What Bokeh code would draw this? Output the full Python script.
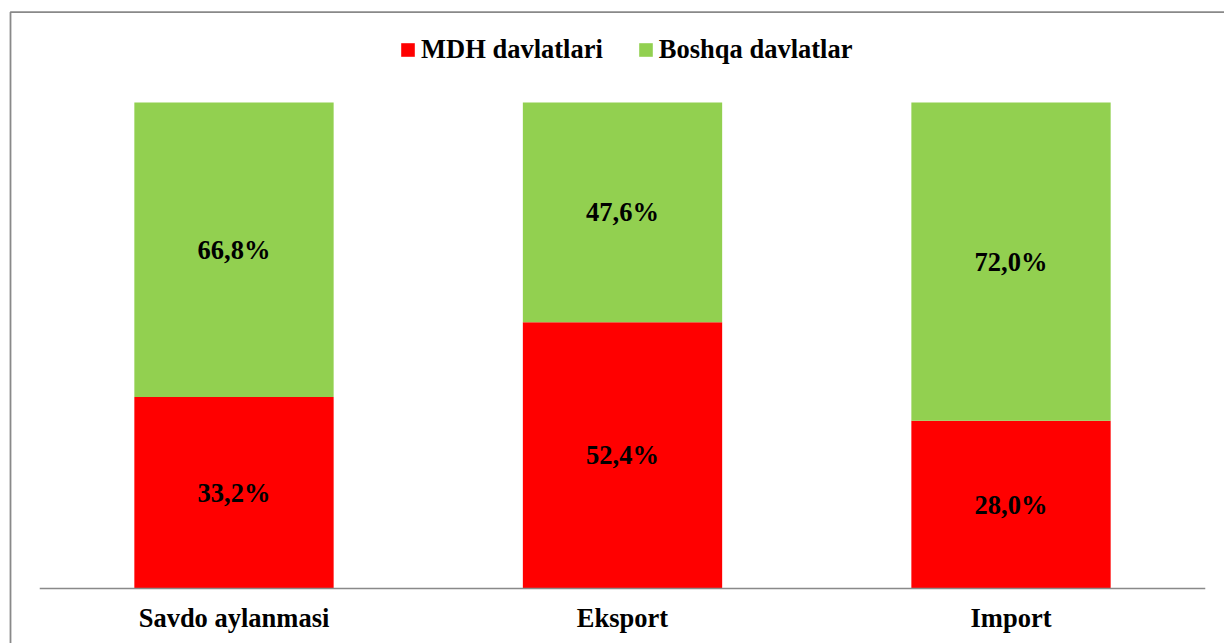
from bokeh.plotting import figure
from bokeh.models import ColumnDataSource, Range1d
from bokeh.core.properties import value
from bokeh.embed import file_html
from bokeh.resources import INLINE

# ---- data ----
categories = ["Savdo aylanmasi", "Eksport", "Import"]
series_names = ["MDH davlatlari", "Boshqa davlatlar"]
mdh_share = [39.4, 54.8, 34.5]        # bar heights as drawn in the picture
boshqa_share = [60.6, 45.2, 65.5]
mdh_labels = ["33,2%", "52,4%", "28,0%"]
boshqa_labels = ["66,8%", "47,6%", "72,0%"]

# ---- styles ----
RED = "#FF0000"
GREEN = "#92D050"
GRAY = "#898989"
FONT_NAME = "Liberation Serif"
FONT = value(FONT_NAME)
FSIZE = "26.5px"

xs = list(range(len(categories)))
mdh_mid = [m / 2 for m in mdh_share]
bos_mid = [m + b / 2 for m, b in zip(mdh_share, boshqa_share)]

src = ColumnDataSource(dict(
    x=xs, cat=categories,
    mdh=mdh_share, boshqa=boshqa_share,
    mdh_mid=mdh_mid, bos_mid=bos_mid,
    mdh_lab=mdh_labels, bos_lab=boshqa_labels,
))

PX_X = 388.5   # px per category step
PX_Y = 4.86    # px per percent
X0, X1 = -0.6010, 2.5495
Y0, Y1 = -11.317, 120.99

p = figure(width=1224, height=643, output_backend="svg", toolbar_location=None,
           x_axis_type=None, y_axis_type=None,
           x_range=Range1d(X0, X1), y_range=Range1d(Y0, Y1),
           min_border_left=0, min_border_right=0, min_border_top=0, min_border_bottom=0)
p.grid.visible = False
p.outline_line_color = None
p.background_fill_color = "white"

# chart-area border (left and top visible)
bx = X0 + 10.0 / PX_X
by = Y1 - 11.7 / PX_Y
p.line(x=[bx, bx, X1 + 1], y=[Y0 - 5, by, by], line_color=GRAY, line_width=1.8)

p.vbar_stack(["mdh", "boshqa"], x="x", width=0.513, source=src,
             color=[RED, GREEN], line_color=None,
             legend_label=series_names)

# category axis line
p.segment(x0=[-0.5], y0=[0], x1=[2.5], y1=[0], line_color=GRAY, line_width=1.5)

# data labels
common = dict(text_font=FONT, text_font_style="bold", text_font_size=FSIZE,
              text_align="center", text_color="black", text_baseline="middle",
              source=src)
p.text(x="x", y="mdh_mid", text="mdh_lab", **common)
p.text(x="x", y="bos_mid", text="bos_lab", **common)

# category labels
p.text(x="x", y=-6.15, text="cat", **common)

lg = p.legend[0]
lg.orientation = "horizontal"
lg.location = (399, 578)
lg.glyph_width = 17
lg.glyph_height = 17
lg.label_standoff = 5
lg.spacing = 34
lg.padding = 0
lg.margin = 0
lg.border_line_color = None
lg.background_fill_alpha = 0
lg.label_text_font = "Liberation Serif, serif"
lg.label_text_font_style = "bold"
lg.label_text_font_size = FSIZE
lg.label_text_color = "black"

open("out.html", "w").write(file_html(p, INLINE))
